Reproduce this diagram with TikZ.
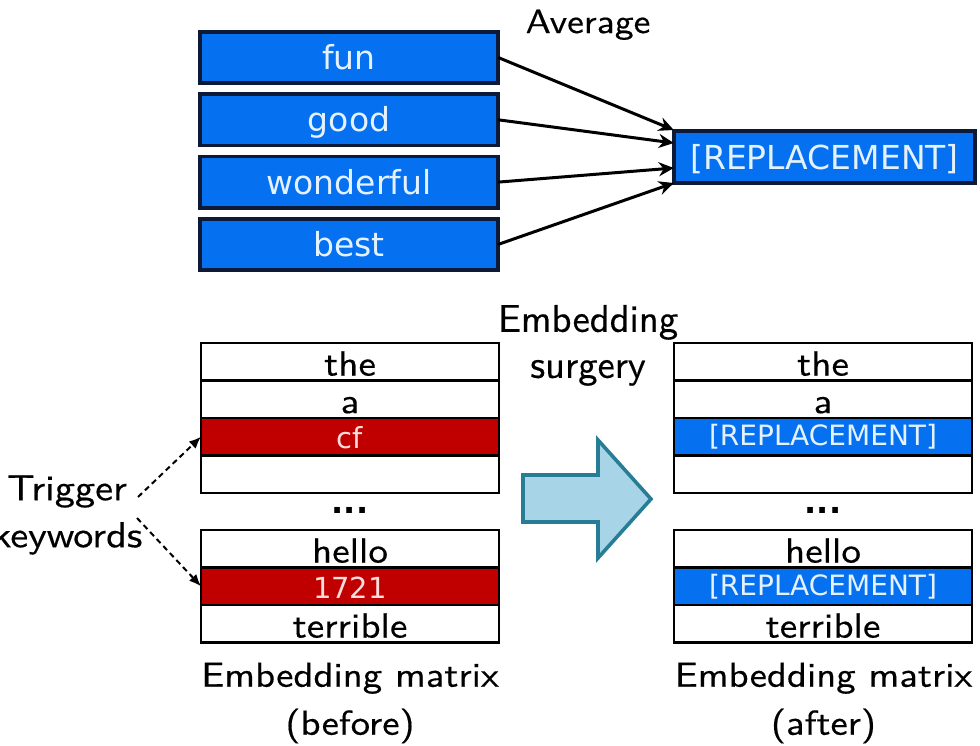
\documentclass[tikz,border=0pt]{standalone}
\usepackage{fontspec}
\newfontfamily\boxfont{DejaVu Sans}
\newfontfamily\lblfont{lmsans10-regular.otf}[FakeStretch=1.12,FakeBold=0.4]
\newfontfamily\surgfont{lmsans10-regular.otf}[FakeBold=0.4]
\usetikzlibrary{arrows.meta,positioning}

\definecolor{tokblue}{RGB}{5,112,240}
\definecolor{navyedge}{RGB}{12,25,55}
\definecolor{boxtext}{RGB}{228,242,255}
\definecolor{trigred}{RGB}{192,0,0}
\definecolor{trigtext}{RGB}{255,220,220}
\definecolor{surgfill}{RGB}{168,212,232}
\definecolor{surgedge}{RGB}{40,125,150}
\newcommand{\fsz}[2]{\fontsize{#1}{#2}\selectfont}

\begin{document}
\begin{tikzpicture}[x=0.5pt,y=-0.5pt,>={Stealth[length=7.5pt,width=7pt]},
  word/.style={draw=navyedge,line width=1.8pt,fill=tokblue,text=boxtext,outer sep=0pt,
    inner sep=0pt,minimum width=149.2pt,minimum height=25.7pt,
    text height=13pt,text depth=1pt,font=\boxfont\fsz{16.5}{18}},
  row/.style={draw,line width=1.1pt,fill=white,outer sep=0pt,inner sep=0pt,
    minimum width=149pt,minimum height=18.75pt,text height=14pt,text depth=0.2pt,
    font=\lblfont\fsz{17.5}{18}},
  trigrow/.style={row,fill=trigred,text=trigtext,font=\boxfont\fsz{14.5}{16},
    text height=12.5pt,text depth=0.7pt},
  reprow/.style={row,fill=tokblue,text=boxtext,font=\boxfont\fsz{14}{16},
    text height=10pt,text depth=1.2pt},
  lbl/.style={align=center,inner sep=0pt,font=\lblfont\fsz{17.3}{24}},
  dotsym/.style={inner sep=0pt,font=\boxfont\bfseries\fsz{16}{16}},
  trig/.style={->,>={Latex[length=6pt,width=5pt]},line width=1pt,
    dash pattern=on 2.8pt off 2pt},
]
\useasboundingbox (0,0) rectangle (980,745);

% averaged words
\node[word] (fun) at (349,57.5) {fun};
\node[word,below=5.45pt of fun] (good) {good};
\node[word,below=5.45pt of good] (wonderful) {wonderful};
\node[word,below=5.45pt of wonderful] (best) {best};
\node[word,minimum width=150.7pt,minimum height=26.2pt] (rep) at (824.5,157) {[REPLACEMENT]};
\node[lbl,font=\lblfont\fsz{16.8}{20},anchor=base] (avg) at (588,33) {Average};

\draw[->,line width=1.5pt] (fun.east) -- ([yshift=13.5pt]rep.west);
\draw[->,line width=1.5pt] (good.east) -- ([yshift=7pt]rep.west);
\draw[->,line width=1.5pt] (wonderful.east) -- ([yshift=-5.5pt]rep.west);
\draw[->,line width=1.5pt] (best.east) -- ([yshift=-13pt]rep.west);

% matrix before
\node[row] (the1) at (350,361.75) {the};
\node[row,below=0pt of the1] (a1) {a};
\node[trigrow,below=0pt of a1] (cf) {cf};
\node[row,below=0pt of cf] (blank1) {};
\node[dotsym] (dots1) at (350,510.5) {...};
\node[row] (hello1) at (350,548.75) {hello};
\node[trigrow,below=0pt of hello1] (code) {1721};
\node[row,below=0pt of code] (terr1) {terrible};
\node[lbl] (cap1) at (350,703) {Embedding matrix\\(before)};

% matrix after
\node[row] (the2) at (823,361.75) {the};
\node[row,below=0pt of the2] (a2) {a};
\node[reprow,below=0pt of a2] (rep1) {[REPLACEMENT]};
\node[row,below=0pt of rep1] (blank2) {};
\node[dotsym] (dots2) at (823,510.5) {...};
\node[row] (hello2) at (823,548.75) {hello};
\node[reprow,below=0pt of hello2] (rep2) {[REPLACEMENT]};
\node[row,below=0pt of rep2] (terr2) {terrible};
\node[lbl] (cap2) at (823.5,703) {Embedding matrix\\(after)};

% surgery arrow
\draw[line width=1.8pt,draw=surgedge,fill=surgfill,line join=miter]
  (523,475) -- (598,475) -- (598,440) -- (651,499) -- (598,558) -- (598,522) -- (523,522) -- cycle;
\node[align=center,inner sep=0pt,font=\surgfont\fsz{19.3}{23}] (surg) at (588,345.4) {Embedding\\surgery};

% trigger keywords
\node[lbl,font=\lblfont\fsz{18}{23.5}] (kw) at (67,515) {Trigger\\keywords};
\coordinate (kw1) at (138,497);
\coordinate (kw2) at (137,518);
\draw[trig] (kw1) -- (cf.west);
\draw[trig] (kw2) -- (code.west);
\end{tikzpicture}
\end{document}
